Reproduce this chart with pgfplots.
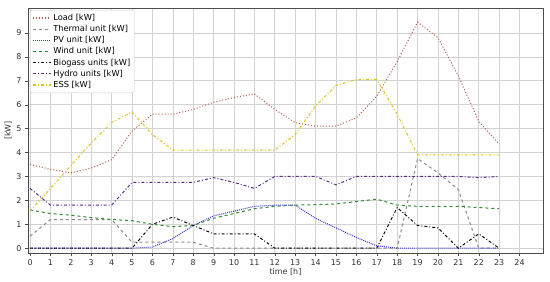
\documentclass[border=0pt]{standalone}
\usepackage{pgfplots}
\pgfplotsset{compat=1.18}
\usepackage{fontspec}
\setmainfont{DejaVu Sans}
\definecolor{cLoad}{HTML}{B5574C}
\definecolor{cTherm}{HTML}{8A8A8A}
\definecolor{cPV}{HTML}{3535D0}
\definecolor{cWind}{HTML}{2E8B2E}
\definecolor{cBio}{HTML}{111111}
\definecolor{cHydro}{HTML}{5B2E8E}
\definecolor{cESS}{HTML}{E2C21E}
\begin{document}
\begin{tikzpicture}
\begin{axis}[name=ax, scale only axis, width=515bp, height=245bp,
  xmin=-0.1, xmax=25.15, ymin=-0.2, ymax=10.04,
  xtick={0,...,24}, ytick={0,...,9},
  grid=major, grid style={gray!35, line width=0.6pt},
  axis line style={black!70}, tick style={black!70},
  tick align=outside, tick pos=left, major tick length=3bp,
  tick label style={font=\fontsize{8}{9}\selectfont, black!80},
  /pgf/number format/assume math mode=true,
  xlabel={time [h]}, ylabel={[kW]},
  label style={font=\fontsize{8}{9}\selectfont, black!80},
  xlabel style={yshift=4bp}, ylabel style={yshift=-2bp},
  legend style={font=\fontsize{8.3}{10}\selectfont, draw=gray!40, fill=white, rounded corners=1.5pt, at={(0.004,0.992)}, anchor=north west, row sep=-0.6pt, inner sep=2pt},
  legend cell align=left,
  legend image post style={line width=1.2pt, xscale=1.05},
  every axis plot/.append style={line width=1pt}]
\addplot[color=cLoad, dotted] coordinates {(0,3.5) (1,3.3) (2,3.15) (3,3.35) (4,3.7) (5,4.9) (6,5.6) (7,5.6) (8,5.8) (9,6.1) (10,6.3) (11,6.45) (12,5.8) (13,5.25) (14,5.1) (15,5.1) (16,5.45) (17,6.35) (18,7.8) (19,9.45) (20,8.8) (21,7.2) (22,5.3) (23,4.35)};
\addlegendentry{Load [kW]}
\addplot[color=cTherm, dashed] coordinates {(0,0.5) (1,1.2) (2,1.2) (3,1.2) (4,1.2) (5,0.25) (6,0.25) (7,0.25) (8,0.25) (9,0) (10,0) (11,0) (12,0) (13,0) (14,0) (15,0) (16,0) (17,0) (18,0) (19,3.75) (20,3.15) (21,2.45) (22,0) (23,0)};
\addlegendentry{Thermal unit [kW]}
\addplot[color=cPV, densely dotted] coordinates {(0,0) (1,0) (2,0) (3,0) (4,0) (5,0) (6,0.05) (7,0.4) (8,0.95) (9,1.35) (10,1.55) (11,1.75) (12,1.8) (13,1.8) (14,1.25) (15,0.85) (16,0.45) (17,0.1) (18,0) (19,0) (20,0) (21,0) (22,0) (23,0)};
\addlegendentry{PV unit [kW]}
\addplot[color=cWind, dashed] coordinates {(0,1.6) (1,1.45) (2,1.38) (3,1.28) (4,1.2) (5,1.15) (6,1.0) (7,0.9) (8,0.95) (9,1.25) (10,1.45) (11,1.65) (12,1.75) (13,1.8) (14,1.82) (15,1.85) (16,1.95) (17,2.05) (18,1.8) (19,1.75) (20,1.75) (21,1.75) (22,1.7) (23,1.65)};
\addlegendentry{Wind unit [kW]}
\addplot[color=cBio, dash dot] coordinates {(0,0) (1,0) (2,0) (3,0) (4,0) (5,0) (6,1.0) (7,1.3) (8,0.95) (9,0.6) (10,0.6) (11,0.6) (12,0) (13,0) (14,0) (15,0) (16,0) (17,0) (18,1.7) (19,0.95) (20,0.85) (21,0) (22,0.6) (23,0)};
\addlegendentry{Biogass units [kW]}
\addplot[color=cHydro, dash dot] coordinates {(0,2.5) (1,1.8) (2,1.8) (3,1.8) (4,1.8) (5,2.75) (6,2.75) (7,2.75) (8,2.75) (9,2.95) (10,2.75) (11,2.5) (12,3.0) (13,3.0) (14,3.0) (15,2.65) (16,3.0) (17,3.0) (18,3.0) (19,3.0) (20,3.0) (21,3.0) (22,2.95) (23,3.0)};
\addlegendentry{Hydro units [kW]}
\addplot[color=cESS, dash dot] coordinates {(0,1.55) (1,2.5) (2,3.45) (3,4.4) (4,5.25) (5,5.7) (6,4.75) (7,4.1) (8,4.1) (9,4.1) (10,4.1) (11,4.1) (12,4.1) (13,4.75) (14,5.95) (15,6.8) (16,7.05) (17,7.05) (18,5.6) (19,3.9) (20,3.9) (21,3.9) (22,3.9) (23,3.9)};
\addlegendentry{ESS [kW]}
\end{axis}
\path ([xshift=-28bp,yshift=-29bp]ax.south west) ([xshift=7bp,yshift=8bp]ax.north east);
\end{tikzpicture}
\end{document}
